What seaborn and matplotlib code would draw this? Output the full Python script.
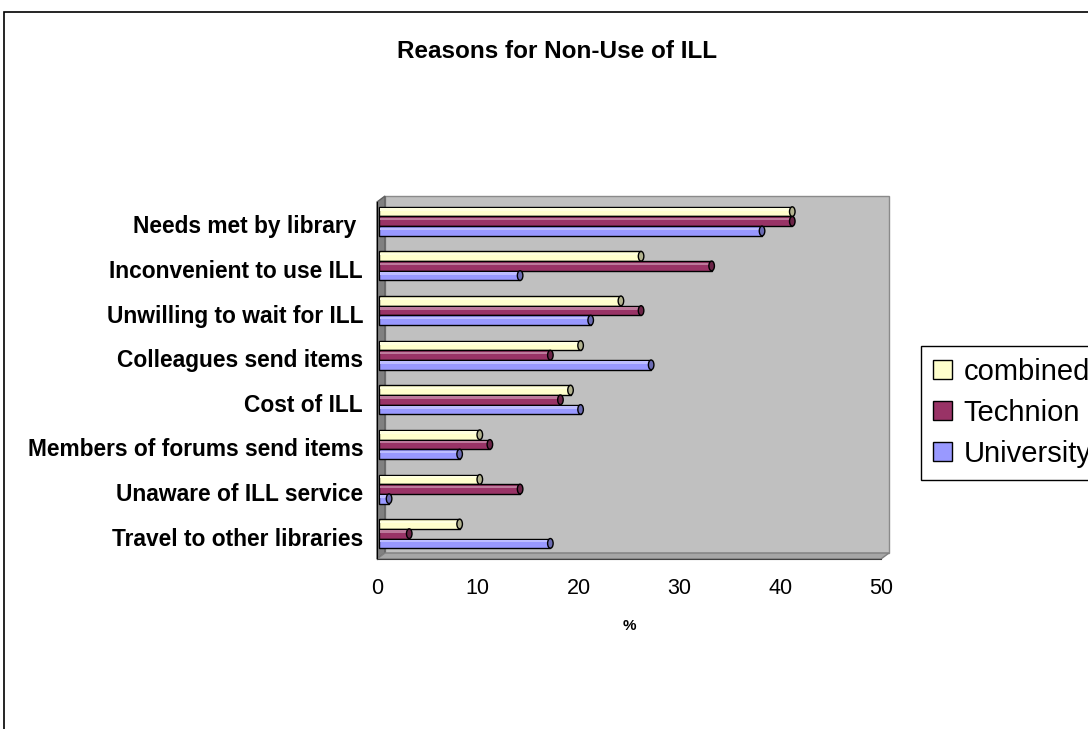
import numpy as np
import pandas as pd
import matplotlib
matplotlib.use("Agg")
import matplotlib.pyplot as plt
import seaborn as sns
from matplotlib.patches import Rectangle, Polygon, Ellipse, Patch
from matplotlib.transforms import ScaledTranslation, IdentityTransform
from matplotlib.colors import to_rgb

# --- data -------------------------------------------------------------
reasons = [
    "Needs met by library ",
    "Inconvenient to use ILL",
    "Unwilling to wait for ILL",
    "Colleagues send items",
    "Cost of ILL",
    "Members of forums send items",
    "Unaware of ILL service",
    "Travel to other libraries",
]
groups = ["combined", "Technion", "University"]
combined = [41, 26, 24, 20, 19, 10, 10, 8]
technion = [41, 33, 26, 17, 18, 11, 14, 3]
university = [38, 14, 21, 27, 20, 8, 1, 17]
x_ticks = [0, 10, 20, 30, 40, 50]
colors = ["#FFFFCC", "#993366", "#9999FF"]

df = pd.DataFrame({
    "reason": reasons * 3,
    "group": np.repeat(groups, len(reasons)),
    "pct": combined + technion + university,
})

# --- figure -----------------------------------------------------------
sns.set_style("white")
plt.rcParams["font.family"] = ["Liberation Sans", "DejaVu Sans"]
for key in ["text.color", "axes.labelcolor", "xtick.color", "ytick.color"]:
    plt.rcParams[key] = "black"

DPI = 100
fig = plt.figure(figsize=(10.88, 7.29), dpi=DPI)
W, H = 1088, 729
L, R, T, B = 377, 881, 202, 559
ax = fig.add_axes([L / W, 1 - B / H, (R - L) / W, (B - T) / H])
ax.set_facecolor("none")

sns.barplot(data=df, x="pct", y="reason", hue="group", hue_order=groups,
            palette=colors, orient="h", width=0.65, edgecolor="black",
            linewidth=1, saturation=1, ax=ax, zorder=3)
ax.get_legend().remove()

ax.set_xlim(0, 50)
ax.set_ylim(len(reasons) - 0.5, -0.5)
ax.set_xticks(x_ticks)
ax.set_xticklabels([str(v) for v in x_ticks], fontsize=15.5)

# category labels with separator ticks between groups
ax.set_yticks(range(len(reasons)))
ax.set_yticklabels(reasons, fontsize=16.4, fontweight="bold")
ax.set_yticks(np.arange(-0.5, len(reasons), 1.0), minor=True)
ax.tick_params(axis="y", which="major", length=0, pad=10)
ax.tick_params(axis="y", which="minor", length=9, width=1, color="black")
ax.tick_params(axis="x", which="major", length=7, width=1, color="#404040",
               pad=7, direction="out")
ax.set_ylabel("")
ax.set_xlabel("%", fontsize=11, fontweight="bold", labelpad=14)

for side in ["top", "right"]:
    ax.spines[side].set_visible(False)
ax.spines["left"].set_color("black")
ax.spines["bottom"].set_color("#404040")
ax.grid(False)

# --- 3-D walls behind the bars ----------------------------------------
dx, dy = 8, 6  # depth offset in pixels
fl, fb = L, H - B   # display coords (origin bottom-left)
fr, ft = R, H - T
wall = Polygon([(fl + dx, fb + dy), (fr + dx, fb + dy), (fr + dx, ft + dy), (fl + dx, ft + dy)],
               closed=True, facecolor="#C0C0C0", edgecolor="#8A8A8A", lw=1)
side_wall = Polygon([(fl, fb), (fl, ft), (fl + dx, ft + dy), (fl + dx, fb + dy)],
                    closed=True, facecolor="#808080", edgecolor="#606060", lw=1)
floor = Polygon([(fl, fb), (fr, fb), (fr + dx, fb + dy), (fl + dx, fb + dy)],
                closed=True, facecolor="#A6A6A6", edgecolor="#808080", lw=1)
for z, p in zip((0.5, 0.6, 0.6), (wall, side_wall, floor)):
    p.set_transform(IdentityTransform())
    p.set_clip_on(False)
    p.set_zorder(z)
    ax.add_artist(p)

# --- cylinder look: lift bars into the depth and add end caps ---------
shift = ScaledTranslation(2 / DPI, 3 / DPI, fig.dpi_scale_trans)
bars = [p for p in ax.patches if isinstance(p, Rectangle)]
for bar in bars:
    x0, y0 = bar.get_x(), bar.get_y()
    w, h = bar.get_width(), bar.get_height()
    if h == 0 or w == 0:
        continue
    bar.set_transform(ax.transData + shift)
    fc = np.array(to_rgb(bar.get_facecolor()))
    # light band along the upper part of each bar
    band = Rectangle((x0 + 0.1, y0 + h * 0.15), w - 0.2, h * 0.25,
                     facecolor=tuple(np.clip(fc + (1 - fc) * 0.35, 0, 1)),
                     edgecolor="none", transform=ax.transData + shift,
                     zorder=3.5)
    ax.add_patch(band)
    cap = Ellipse((x0 + w, y0 + h / 2), width=0.55, height=h,
                  facecolor=tuple(fc * 0.7), edgecolor="black", lw=1,
                  transform=ax.transData + shift, zorder=4)
    ax.add_patch(cap)

# --- title, legend and outer frame ------------------------------------
fig.text(557 / W, 1 - 52 / H, "Reasons for Non-Use of ILL", ha="center",
         va="center", fontsize=17.5, fontweight="bold")

handles = [Patch(facecolor=c, edgecolor="black", lw=1) for c in colors]
fig.legend(handles, groups, loc="upper left",
           bbox_to_anchor=(921 / W, 1 - 346 / H), fontsize=21,
           frameon=True, fancybox=False, edgecolor="black", framealpha=1,
           handlelength=0.65, handleheight=0.65, handletextpad=0.4,
           labelspacing=0.45, borderpad=0.4, borderaxespad=0)

frame = Rectangle((4 / W, -0.1), 1.2, 1 - 12 / H + 0.1, transform=fig.transFigure,
                  facecolor="none", edgecolor="black", lw=1.2, zorder=0)
fig.patches.append(frame)

fig.savefig("out.png", dpi=DPI)
